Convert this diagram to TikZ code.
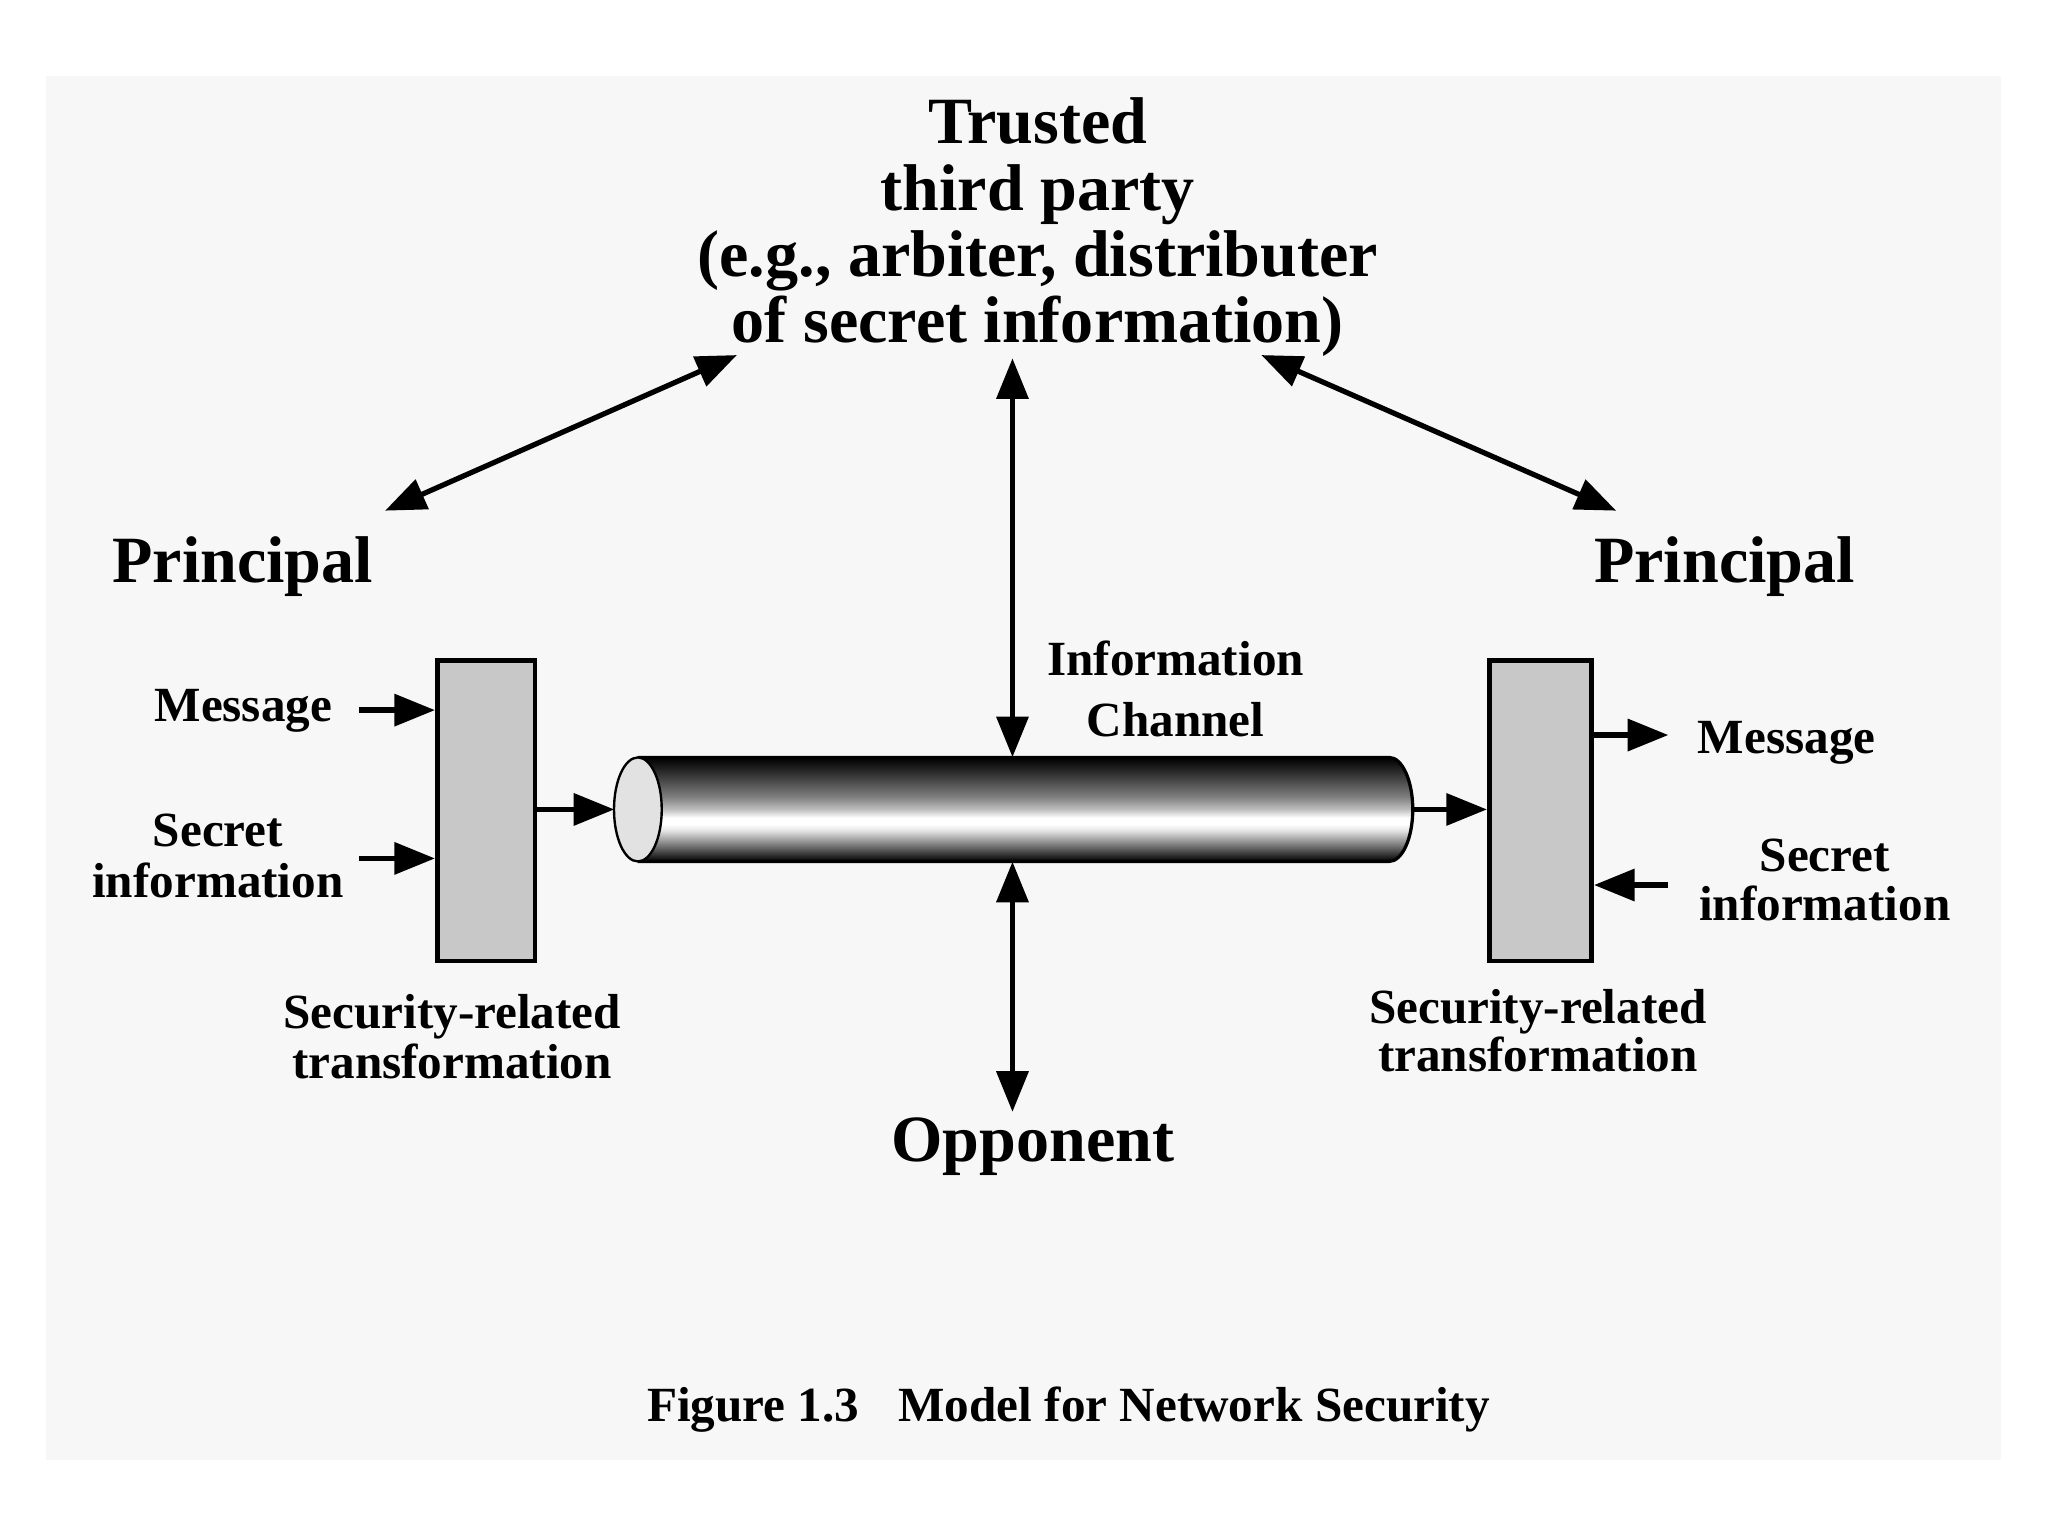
\documentclass[tikz,border=0pt]{standalone}
\usepackage{fontspec}
\setmainfont{Liberation Serif}
\usetikzlibrary{arrows.meta}
\definecolor{bgc}{HTML}{F7F7F7}
\definecolor{boxc}{HTML}{C8C8C8}
\definecolor{endc}{HTML}{E2E2E2}
\pgfdeclareverticalshading{cyl}{100bp}{color(0bp)=(black); color(25bp)=(black); color(30bp)=(black!70); color(35bp)=(black!40); color(40bp)=(black!10); color(43bp)=(white); color(46bp)=(white); color(50bp)=(black!25); color(56bp)=(black!50); color(64bp)=(black!72); color(70bp)=(black!88); color(75bp)=(black); color(100bp)=(black)}
\tikzset{
  big/.style={font=\bfseries\fontsize{50.4}{50.6}\selectfont, inner sep=0pt, align=center},
  lbl/.style={font=\bfseries\fontsize{37.5}{39}\selectfont, inner sep=0pt, align=center},
  tbox/.style={draw=black, line width=3.5pt, fill=boxc, inner sep=0pt},
  arr/.style={line width=4pt, -{Triangle[length=31pt,width=24pt]}},
  dbl/.style={line width=4pt, {Triangle[length=31pt,width=24pt]}-{Triangle[length=31pt,width=24pt]}},
}
\begin{document}
\begin{tikzpicture}[x=1pt,y=-1pt]
\fill[white] (0,0) rectangle (1562,1171.5);
\useasboundingbox (0,0) rectangle (1562,1171.5);
\fill[bgc] (34.8,57.7) rectangle (1526.3,1113.7);

% texts (base anchor = baseline of the last line)
\node[big, anchor=base] (ttp) at (791.5,261.6) {Trusted\\third party\\(e.g., arbiter, distributer\\of secret information)};
\node[big, anchor=base west] (prL) at (85.5,444) {Principal};
\node[big, anchor=base west] (prR) at (1215.7,444) {Principal};
\node[big, anchor=base] (opp) at (787.8,885.6) {Opponent};
\node[lbl, anchor=base, font=\bfseries\fontsize{37.5}{46.5}\selectfont] (ich) at (896.6,561.4) {Information\\Channel};
\node[lbl, anchor=base] (msgL) at (185.6,550.5) {Message};
\node[lbl, anchor=base] (secL) at (166.2,684.7) {Secret\\information};
\node[lbl, anchor=base, font=\bfseries\fontsize{37.5}{38.3}\selectfont] (srtL) at (344.8,822.5) {Security-related\\transformation};
\node[lbl, anchor=base] (msgR) at (1362.7,574.6) {Message};
\node[lbl, anchor=base, font=\bfseries\fontsize{37.5}{37}\selectfont] (secR) at (1391.7,701.8) {Secret\\information};
\node[lbl, anchor=base, font=\bfseries\fontsize{37.5}{37}\selectfont] (srtR) at (1172.9,817.5) {Security-related\\transformation};
\node[lbl, anchor=base] (cap) at (814.9,1084.4) {Figure 1.3\hspace{0.8em}Model for Network Security};

% transformation boxes
\node[tbox, minimum width=74.4pt, minimum height=229pt] (lbox) at (370.7,618.3) {};
\node[tbox, minimum width=78.2pt, minimum height=229pt] (rbox) at (1174.9,618.3) {};

% channel (cylinder)
\shade[shading=cyl] (486.5,577.7) -- (1059.5,577.7) arc[start angle=-90, end angle=90, x radius=18, y radius=39.65] -- (486.5,657) -- cycle;
\draw[line width=2.5pt] (486.5,577.7) -- (1059.5,577.7) arc[start angle=-90, end angle=90, x radius=18, y radius=39.65] -- (486.5,657);
\draw[line width=1.8pt, fill=endc] (486.5,617.35) ellipse [x radius=18.2, y radius=39.65];
\node[minimum width=607pt, minimum height=79.3pt, inner sep=0pt] (chan) at (772.2,617.35) {};

% coordinates of free ends
\coordinate (pL) at (293.7,389.5);
\coordinate (tL) at (562,270.8);
\coordinate (tR) at (962,270.8);
\coordinate (pR) at (1232.6,389.5);
\coordinate (ttpB) at (772.2,273.3);
\coordinate (oppT) at (772.2,848);
\coordinate (mLs) at (274,541.6);
\coordinate (sLs) at (274,654.7);
\coordinate (mRe) at (1272.4,560.6);
\coordinate (sRs) at (1272.4,675);

% connectors
\draw[dbl] (pL) -- (tL);
\draw[dbl] (tR) -- (pR);
\draw[dbl] (ttpB) -- (chan.north);
\draw[dbl] (chan.south) -- (oppT);
\draw[arr] (mLs) -- (mLs -| lbox.west);
\draw[arr] (sLs) -- (sLs -| lbox.west);
\draw[arr] (lbox.east |- chan.west) -- (chan.west);
\draw[arr] (chan.east) -- (rbox.west |- chan.east);
\draw[arr] (mRe -| rbox.east) -- (mRe);
\draw[arr] (sRs) -- (sRs -| rbox.east);
\end{tikzpicture}
\end{document}
